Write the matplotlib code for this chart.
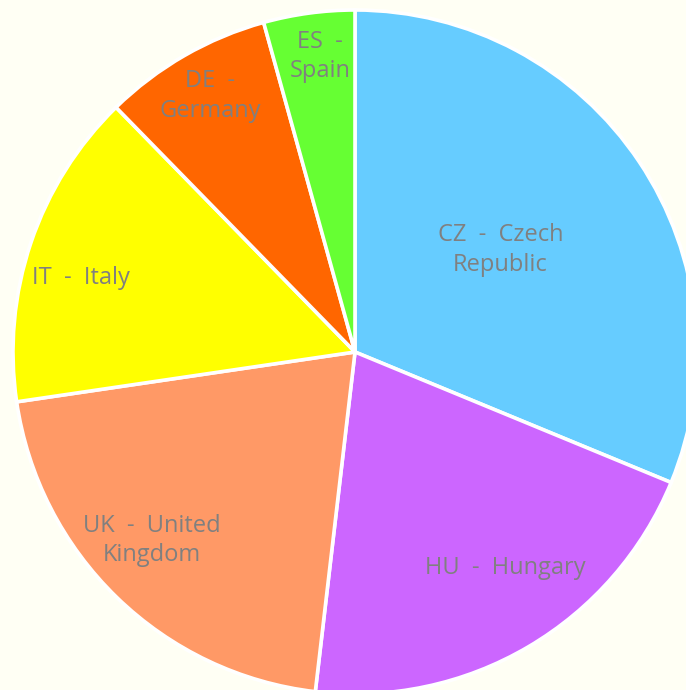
import numpy as np
import matplotlib
matplotlib.use("Agg")
import matplotlib.pyplot as plt

labels = ["CZ  -  Czech\nRepublic", "HU  -  Hungary", "UK  -  United\nKingdom",
          "IT  -  Italy", "DE  -\nGermany", "ES  -\nSpain"]
values = [31.2, 20.6, 20.8, 15.0, 8.0, 4.3]
colors = ["#66CCFF", "#CC66FF", "#FF9966", "#FFFF00", "#FF6600", "#66FF33"]
label_radius = [0.52, 0.77, 0.81, 0.83, 0.86, 0.87]
label_shift = [1.3, 4.4, -3.0, 3.5, -0.4, -1.0]  # degrees

bg = "#FFFFF4"
W, H = 686, 690
fig = plt.figure(figsize=(W / 100, H / 100), dpi=100, facecolor=bg)
ax = fig.add_axes([0, 0, 1, 1])
ax.set_facecolor(bg)

cx, cy, R = 355, 352, 342
wedges, _ = ax.pie(values, colors=colors, startangle=90, counterclock=False,
                   wedgeprops=dict(edgecolor="white", linewidth=2.6))
ax.set_xlim(-cx / R, (W - cx) / R)
ax.set_ylim(-(H - cy) / R, cy / R)
ax.set_aspect("equal")
ax.axis("off")

for w, lab, rf, sh in zip(wedges, labels, label_radius, label_shift):
    ang = np.deg2rad((w.theta1 + w.theta2) / 2 + sh)
    ax.text(rf * np.cos(ang), rf * np.sin(ang), lab, ha="center", va="center",
            fontsize=17, color="#808080", family="Open Sans",
            linespacing=1.32)

fig.savefig("out.png", dpi=100, facecolor=bg)
